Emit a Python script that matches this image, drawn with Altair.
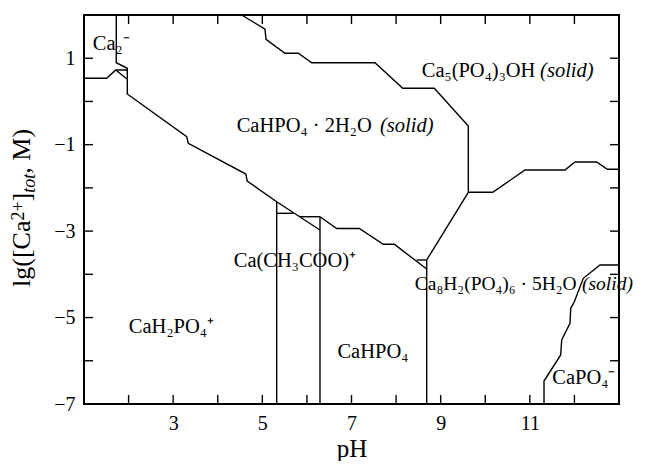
import altair as alt
import pandas as pd

FONT = "Liberation Serif"

# ---- boundary lines (pH, lg[Ca]) ----
ca2_x = [1.724, 1.724, 1.971, 1.971, 3.304, 3.339, 4.63, 4.66, 5.322, 6.293]
ca2_y = [2.0, 0.896, 0.767, 0.172, -0.816, -0.968, -1.68, -1.84, -2.32, -2.974]
left_x = [1.0, 1.509, 1.711, 1.971]
left_y = [0.535, 0.535, 0.727, 0.727]
lefttri_x = [1.711, 1.971]
lefttri_y = [0.727, 0.512]
v1_x = [5.322, 5.322]
v1_y = [-2.32, -7.0]
h1_x = [5.322, 5.695]
h1_y = [-2.588, -2.588]
h2_x = [5.845, 6.293]
h2_y = [-2.667, -2.667]
v2_x = [6.293, 6.293]
v2_y = [-2.667, -7.0]
low_x = [6.293, 6.668, 7.175, 7.713, 7.960, 8.687]
low_y = [-2.667, -2.94, -2.94, -3.305, -3.305, -3.877]
h3_x = [8.462, 8.687]
h3_y = [-3.668, -3.668]
v3_x = [8.687, 8.687]
v3_y = [-3.668, -7.0]
octa_x = [8.687, 9.620]
octa_y = [-3.668, -2.102]
top_x = [4.537, 5.06, 5.082, 5.508, 5.807, 6.107, 7.527, 8.149, 8.857, 9.620, 9.620]
top_y = [2.0, 1.67, 1.438, 1.114, 1.114, 0.896, 0.896, 0.304, 0.304, -0.568, -2.102]
right_x = [9.620, 10.167, 10.892, 11.789, 12.013, 12.5, 12.738, 13.0]
right_y = [-2.102, -2.102, -1.586, -1.586, -1.401, -1.401, -1.570, -1.570]
capo4_x = [13.0, 12.574, 12.199, 12.0, 11.917, 11.901, 11.715, 11.692, 11.318, 11.318]
capo4_y = [-3.784, -3.784, -4.092, -4.63, -4.786, -5.133, -5.519, -5.866, -6.468, -7.0]

segments = {
    "ca2": (ca2_x, ca2_y), "left": (left_x, left_y), "lefttri": (lefttri_x, lefttri_y),
    "v1": (v1_x, v1_y), "h1": (h1_x, h1_y), "h2": (h2_x, h2_y), "v2": (v2_x, v2_y),
    "low": (low_x, low_y), "h3": (h3_x, h3_y), "v3": (v3_x, v3_y), "octa": (octa_x, octa_y),
    "top": (top_x, top_y), "right": (right_x, right_y), "capo4": (capo4_x, capo4_y),
}

# ---- region labels ----
lab_text = ["Ca₂⁻", "CaHPO₄ · 2H₂O", "Ca₅(PO₄)₃OH", "Ca(CH₃COO)⁺", "Ca₈H₂(PO₄)₆ · 5H₂O",
            "CaH₂PO₄⁺", "CaHPO₄", "CaPO₄⁻"]
lab_x = [1.61, 4.425, 8.575, 5.73, 8.42, 2.96, 7.48, 12.21]
lab_y = [1.33, -0.57, 0.70, -3.69, -4.22, -5.22, -5.8, -6.40]
lab_align = ["center", "left", "left", "center", "left", "center", "center", "center"]
lab_size = [20.5, 20.5, 20.5, 20.5, 19.5, 20.5, 20.5, 20.5]
solid_x = [7.64, 11.23, 12.17]
solid_y = [-0.57, 0.70, -4.22]
solid_size = [20.5, 20.5, 19.5]

x_ticks = list(range(2, 13))
y_ticks = list(range(-6, 2))
x_labels = [3, 5, 7, 9, 11]
y_labels = [1, -1, -3, -5, -7]

# y-axis title pieces: text, font size, style, offset from plot left (px), start (px from plot top)
ytitle_text = ["lg([Ca", "2+", "]", "tot", ", M)"]
ytitle_size = [26, 18, 26, 18, 26]
ytitle_style = ["normal", "normal", "normal", "italic", "normal"]
ytitle_dx = [-54, -60, -54, -49, -54]
ytitle_start = [272, 205.6, 186.4, 177.7, 158.7]

rows = []
for name, (xs_, ys_) in segments.items():
    for i, (a, b) in enumerate(zip(xs_, ys_)):
        rows.append({"seg": name, "o": i, "x": a, "y": b})
lines_df = pd.DataFrame(rows)

W, H = 535, 389
xs = alt.Scale(domain=[1, 13], nice=False, zero=False)
ys = alt.Scale(domain=[-7, 2], nice=False, zero=False)
xaxis = alt.Axis(values=x_labels, ticks=False, domain=False, grid=False, title="pH",
                 labelFont=FONT, labelFontSize=20, labelColor="black", labelPadding=9,
                 titleFont=FONT, titleFontSize=25, titleFontWeight="normal", titleColor="black",
                 titleBaseline="alphabetic", titleY=52)
yaxis = alt.Axis(values=y_labels, ticks=False, domain=False, grid=False, title="",
                 labelFont=FONT, labelFontSize=20, labelColor="black", labelPadding=9)
X = alt.X("x:Q", scale=xs, axis=xaxis)
Y = alt.Y("y:Q", scale=ys, axis=yaxis)

lines = alt.Chart(lines_df).mark_line(color="black", strokeWidth=1.4).encode(
    x=X, y=Y, detail="seg:N", order="o:Q")

xt = pd.DataFrame({"x": x_ticks})
yt = pd.DataFrame({"y": y_ticks})
tick_bottom = alt.Chart(xt).mark_rule(color="black", strokeWidth=1.4).encode(
    x=X, y=alt.value(H), y2=alt.value(H - 9))
tick_top = alt.Chart(xt).mark_rule(color="black", strokeWidth=1.4).encode(
    x=X, y=alt.value(0), y2=alt.value(9))
tick_left = alt.Chart(yt).mark_rule(color="black", strokeWidth=1.4).encode(
    y=Y, x=alt.value(0), x2=alt.value(9))
tick_right = alt.Chart(yt).mark_rule(color="black", strokeWidth=1.4).encode(
    y=Y, x=alt.value(W), x2=alt.value(W - 9))

labels_df = pd.DataFrame({"x": lab_x, "y": lab_y, "t": lab_text, "a": lab_align, "s": lab_size})
text_layers = []
for al in ["left", "center"]:
    for sz in sorted(set(lab_size)):
        sub = labels_df[(labels_df["a"] == al) & (labels_df["s"] == sz)]
        if len(sub) == 0:
            continue
        text_layers.append(
            alt.Chart(sub).mark_text(
                font=FONT, fontSize=sz, color="black", align=al, baseline="middle").encode(
                x=X, y=Y, text="t:N"))
solid_df = pd.DataFrame({"x": solid_x, "y": solid_y, "t": ["(solid)"] * 3, "s": solid_size})
for sz in sorted(set(solid_size)):
    text_layers.append(
        alt.Chart(solid_df[solid_df["s"] == sz]).mark_text(
            font=FONT, fontSize=sz, fontStyle="italic", color="black", align="left",
            baseline="middle").encode(x=X, y=Y, text="t:N"))

title_layers = []
for t, s, st, dx, y0 in zip(ytitle_text, ytitle_size, ytitle_style, ytitle_dx, ytitle_start):
    title_layers.append(
        alt.Chart(pd.DataFrame({"t": [t]})).mark_text(
            font=FONT, fontSize=s, fontStyle=st, color="black", angle=270,
            align="left", baseline="alphabetic").encode(
            x=alt.value(dx), y=alt.value(y0), text="t:N"))

chart = alt.layer(lines, tick_bottom, tick_top, tick_left, tick_right, *text_layers,
                  *title_layers).properties(
    width=W, height=H,
    autosize=alt.AutoSizeParams(type="none"),
    padding={"left": 76, "top": 7, "right": 18, "bottom": 57},
    background="white",
).configure_view(stroke="black", strokeWidth=2)

chart.save("out.html", embed_options={"renderer": "svg", "actions": False})
